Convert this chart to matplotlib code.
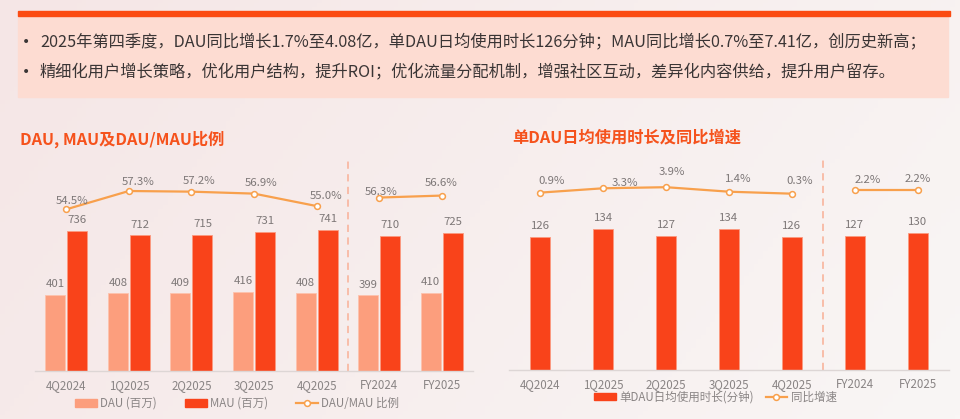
import numpy as np
import matplotlib
matplotlib.use("Agg")
import matplotlib.pyplot as plt
from matplotlib.patches import Rectangle, Patch
from matplotlib.lines import Line2D

plt.rcParams['font.family'] = ['Noto Sans CJK SC', 'DejaVu Sans']

# ---------------- data ----------------
categories = ["4Q2024", "1Q2025", "2Q2025", "3Q2025", "4Q2025", "FY2024", "FY2025"]
dau = [401, 408, 409, 416, 408, 399, 410]
mau = [736, 712, 715, 731, 741, 710, 725]
dau_mau_ratio = [54.5, 57.3, 57.2, 56.9, 55.0, 56.3, 56.6]
time_per_dau = [126, 134, 127, 134, 126, 127, 130]
time_yoy = [0.9, 3.3, 3.9, 1.4, 0.3, 2.2, 2.2]

bullet_lines = [
    "2025年第四季度，DAU同比增长1.7%至4.08亿，单DAU日均使用时长126分钟；MAU同比增长0.7%至7.41亿，创历史新高；",
    "精细化用户增长策略，优化用户结构，提升ROI；优化流量分配机制，增强社区互动，差异化内容供给，提升用户留存。",
]
title_left = "DAU, MAU及DAU/MAU比例"
title_right = "单DAU日均使用时长及同比增速"
legend_left = ["DAU (百万)", "MAU (百万)", "DAU/MAU 比例"]
legend_right = ["单DAU日均使用时长(分钟)", "同比增速"]

# ---------------- style ----------------
W, H = 960, 419
C_DAU = "#fc9e7d"
C_MAU = "#f9431a"
C_LINE = "#f8a04c"
C_TITLE = "#f5521c"
C_LABEL = "#7d7777"
C_TICK = "#8a8585"
C_TEXT = "#3a3535"
# label offsets (px) for percentage labels
left_pct_off = [(6, -8), (9, -9), (8, -11), (7, -11), (10, -10), (2, -6), (-1, -13)]
right_pct_off = [(11, -12), (22, -5), (6, -15), (9, -13), (8, -13), (13, -10), (0, -11)]

fig = plt.figure(figsize=(W / 100, H / 100), dpi=100)

def fx(px):
    return px / W

def fy(py):
    return 1 - py / H

# background gradient
bg = fig.add_axes([0, 0, 1, 1], zorder=-10)
c1 = np.array([0xf5, 0xe6, 0xe6]) / 255
c2 = np.array([0xf9, 0xf6, 0xf5]) / 255
gx = np.linspace(0, 1, 200)[None, :, None]
gy = np.linspace(0, 1, 100)[:, None, None]
t = np.clip(0.75 * gx + 0.25 * gy, 0, 1)
img = c1 * (1 - t) + c2 * t
bg.imshow(img, aspect='auto', extent=[0, 1, 0, 1], origin='upper')
bg.axis('off')

# top box
fig.patches.append(Rectangle((fx(18), fy(97)), fx(930), (97 - 16) / H,
                             transform=fig.transFigure, color="#fddcd2", zorder=1))
fig.patches.append(Rectangle((fx(18), fy(16)), fx(932), 5 / H,
                             transform=fig.transFigure, color="#fb4b12", zorder=2))
for yy, line in zip([42, 72], bullet_lines):
    fig.text(fx(26), fy(yy), "•", fontsize=10, color=C_TEXT, ha='center', va='center',
             family='DejaVu Sans')
    fig.text(fx(40), fy(yy), line, fontsize=11.7, color=C_TEXT, ha='left', va='center')

# titles
fig.text(fx(20), fy(139), title_left, fontsize=11.7, fontweight='bold', color=C_TITLE,
         ha='left', va='center')
fig.text(fx(512), fy(137), title_right, fontsize=11.7, fontweight='bold', color=C_TITLE,
         ha='left', va='center')

x = np.arange(len(categories))

def style_axes(ax):
    for s in ['top', 'right', 'left']:
        ax.spines[s].set_visible(False)
    ax.spines['bottom'].set_color("#ddd6d5")
    ax.spines['bottom'].set_linewidth(1)
    ax.set_yticks([])
    ax.set_xticks(x)
    ax.set_xticklabels(categories, fontsize=8.3, color=C_TICK)
    ax.tick_params(axis='x', length=0, pad=6)
    ax.set_xlim(-0.5, len(categories) - 0.5)
    ax.patch.set_alpha(0)
    ax.axvline(4.5, color="#f9b9a3", lw=1.3, ls=(0, (4, 3)), zorder=1)

# ---------------- left chart ----------------
axL = fig.add_axes([fx(35), fy(371), fx(473 - 35), (371 - 160) / H])
style_axes(axL)
axL.set_ylim(0, 1107)
bw = 0.32
b1 = axL.bar(x - 0.176, dau, bw, color=C_DAU, edgecolor="#fdc2ad", lw=0.6, zorder=2)
b2 = axL.bar(x + 0.176, mau, bw, color=C_MAU, edgecolor="#fb9a80", lw=0.6, zorder=2)
for rect, v in list(zip(b1, dau)) + list(zip(b2, mau)):
    axL.annotate(str(v), (rect.get_x() + rect.get_width() / 2, rect.get_height()),
                 xytext=(0, 7.5), textcoords='offset points', ha='center', va='center',
                 fontsize=8.2, color=C_LABEL)
axL2 = axL.twinx()
axL2.set_ylim(29.78, 62.04)
axL2.axis('off')
for seg in (slice(0, 5), slice(5, 7)):
    axL2.plot(x[seg], dau_mau_ratio[seg], color=C_LINE, lw=1.6, marker='o', ms=4.2,
              mfc='white', mec=C_LINE, mew=1.1, zorder=3)
for i, v in enumerate(dau_mau_ratio):
    dx, dy = left_pct_off[i]
    axL2.annotate(f"{v:.1f}%", (x[i], v), xytext=(dx * 0.72, -dy * 0.72),
                  textcoords='offset points', ha='center', va='center',
                  fontsize=8.2, color=C_LABEL)

handlesL = [Patch(color=C_DAU), Patch(color=C_MAU),
            Line2D([], [], color=C_LINE, lw=1.6, marker='o', ms=4.2, mfc='white',
                   mec=C_LINE, mew=1.1)]
fig.legend(handlesL, legend_left, loc='center', bbox_to_anchor=(fx(237), fy(403.5)),
           ncol=3, frameon=False, fontsize=8.3, labelcolor=C_TICK, handlelength=1.9,
           handleheight=0.65, handletextpad=0.3, columnspacing=2.4)

# ---------------- right chart ----------------
axR = fig.add_axes([fx(509), fy(370), fx(949 - 509), (370 - 160) / H])
style_axes(axR)
axR.set_ylim(0, 199.3)
b3 = axR.bar(x, time_per_dau, bw, color=C_MAU, edgecolor="#fb9a80", lw=0.6, zorder=2)
for rect, v in zip(b3, time_per_dau):
    axR.annotate(str(v), (rect.get_x() + rect.get_width() / 2, rect.get_height()),
                 xytext=(0, 7.8), textcoords='offset points', ha='center', va='center',
                 fontsize=8.2, color=C_LABEL)
axR2 = axR.twinx()
axR2.set_ylim(-97.6, 19.0)
axR2.axis('off')
for seg in (slice(0, 5), slice(5, 7)):
    axR2.plot(x[seg], time_yoy[seg], color=C_LINE, lw=1.6, marker='o', ms=4.2,
              mfc='white', mec=C_LINE, mew=1.1, zorder=3)
for i, v in enumerate(time_yoy):
    dx, dy = right_pct_off[i]
    axR2.annotate(f"{v:.1f}%", (x[i], v), xytext=(dx * 0.72, -dy * 0.72),
                  textcoords='offset points', ha='center', va='center',
                  fontsize=8.2, color=C_LABEL)

handlesR = [Patch(color=C_MAU),
            Line2D([], [], color=C_LINE, lw=1.6, marker='o', ms=4.2, mfc='white',
                   mec=C_LINE, mew=1.1)]
fig.legend(handlesR, legend_right, loc='center', bbox_to_anchor=(fx(715.5), fy(397)),
           ncol=2, frameon=False, fontsize=8.3, labelcolor=C_TICK, handlelength=1.9,
           handleheight=0.65, handletextpad=0.3, columnspacing=1.0)

fig.savefig("out.png", dpi=100)
